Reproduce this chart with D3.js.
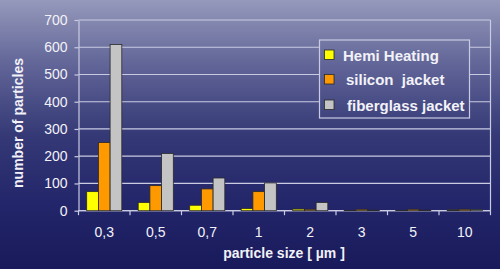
<!DOCTYPE html>
<html>
<head>
<meta charset="utf-8">
<script src="https://cdn.jsdelivr.net/npm/d3@7"></script>
<style>
  html, body { margin: 0; padding: 0; background: #1b1d5f; }
  svg { display: block; font-family: "Liberation Sans", Arial, sans-serif; }
</style>
</head>
<body>
<svg class="chart" width="500" height="269"></svg>
<script>
// particle counts per size class
const sizes = ["0,3", "0,5", "0,7", "1", "2", "3", "5", "10"];
const seriesNames = ["Hemi Heating", "silicon  jacket", "fiberglass jacket"];
const hemiHeating = [70, 30, 20, 8, 6, 1, 1, 3];
const siliconJacket = [250, 92, 80, 70, 5, 5, 5, 5];
const fiberglassJacket = [610, 210, 120, 102, 30, 2, 2, 4];
const yTicks = [0, 100, 200, 300, 400, 500, 600, 700];

const colors = ["#ffff00", "#ff9900", "#c4c4c4"];
const values = [hemiHeating, siliconJacket, fiberglassJacket];

const width = 500;
const height = 269;
const plot = { left: 78.5, right: 490.5, top: 20, bottom: 210.7 };

const svg = d3.select(".chart");

// background gradient, reused for the legend box so it looks see-through
const defs = svg.append("defs");
const grad = defs
  .append("linearGradient")
  .attr("id", "bg")
  .attr("gradientUnits", "userSpaceOnUse")
  .attr("x1", 0).attr("y1", 0)
  .attr("x2", 0).attr("y2", height);
grad.append("stop").attr("offset", 0).attr("stop-color", "#9599bb");
grad.append("stop").attr("offset", 0.25).attr("stop-color", "#5f6396");
grad.append("stop").attr("offset", 0.5).attr("stop-color", "#353976");
grad.append("stop").attr("offset", 0.75).attr("stop-color", "#23266a");
grad.append("stop").attr("offset", 1).attr("stop-color", "#181a5b");

svg.append("rect")
  .attr("width", width)
  .attr("height", height)
  .attr("fill", "url(#bg)");

const x = d3.scaleBand().domain(sizes).range([plot.left, plot.right]);
const xInner = d3
  .scaleBand()
  .domain(d3.range(seriesNames.length))
  .range([0, x.bandwidth()])
  .paddingOuter(0.7);
const y = d3.scaleLinear().domain([0, 700]).range([plot.bottom, plot.top]);

const lineColor = "#c9cbe2";

// grid lines
svg.append("g")
  .selectAll("line")
  .data(yTicks)
  .join("line")
  .attr("x1", plot.left)
  .attr("x2", plot.right)
  .attr("y1", (d) => y(d))
  .attr("y2", (d) => y(d))
  .attr("stroke", lineColor)
  .attr("stroke-width", 1.2);

// right border of plot area
svg.append("line")
  .attr("x1", plot.right).attr("x2", plot.right)
  .attr("y1", plot.top).attr("y2", plot.bottom)
  .attr("stroke", lineColor)
  .attr("stroke-width", 1.2);

// y axis
const yAxis = svg
  .append("g")
  .attr("transform", `translate(${plot.left},0)`)
  .call(d3.axisLeft(y).tickValues(yTicks).tickSize(4).tickPadding(7).tickSizeOuter(0));
yAxis.select(".domain").attr("stroke", lineColor).attr("stroke-width", 1.2);
yAxis.selectAll(".tick line").attr("stroke", lineColor).attr("stroke-width", 1.2);
yAxis.selectAll(".tick text")
  .attr("fill", "#f2f2f8")
  .style("font-size", "14px")
  .style("font-family", "Liberation Sans, Arial, sans-serif");

// x axis: ticks on category boundaries
const xAxis = svg.append("g");
xAxis.append("line")
  .attr("x1", plot.left).attr("x2", plot.right)
  .attr("y1", plot.bottom).attr("y2", plot.bottom)
  .attr("stroke", lineColor)
  .attr("stroke-width", 1.2);
xAxis.selectAll(".xtick")
  .data(sizes.concat([null]))
  .join("line")
  .attr("class", "xtick")
  .attr("x1", (d, i) => plot.left + i * x.step())
  .attr("x2", (d, i) => plot.left + i * x.step())
  .attr("y1", plot.bottom)
  .attr("y2", plot.bottom + 4.5)
  .attr("stroke", lineColor)
  .attr("stroke-width", 1.2);
xAxis.selectAll(".xlabel")
  .data(sizes)
  .join("text")
  .attr("class", "xlabel")
  .attr("x", (d) => x(d) + x.bandwidth() / 2)
  .attr("y", 237)
  .attr("text-anchor", "middle")
  .attr("fill", "#f2f2f8")
  .style("font-size", "14px")
  .text((d) => d);

// bars
values.forEach((vals, s) => {
  svg.append("g")
    .selectAll("rect")
    .data(vals)
    .join("rect")
    .attr("x", (d, i) => x(sizes[i]) + xInner(s))
    .attr("y", (d) => y(d))
    .attr("width", xInner.bandwidth())
    .attr("height", (d) => y(0) - y(d))
    .attr("fill", colors[s])
    .attr("stroke", "#2a2a2a")
    .attr("stroke-width", 0.8);
});

// axis titles
svg.append("text")
  .attr("x", 284)
  .attr("y", 258)
  .attr("text-anchor", "middle")
  .attr("fill", "#f2f2f8")
  .style("font-size", "14px")
  .style("font-weight", "bold")
  .text("particle size [ µm ]");

svg.append("text")
  .attr("transform", "translate(23,123) rotate(-90)")
  .attr("text-anchor", "middle")
  .attr("fill", "#f2f2f8")
  .style("font-size", "14px")
  .style("font-weight", "bold")
  .text("number of particles");

// legend
const legend = svg.append("g");
legend.append("rect")
  .attr("x", 319.5)
  .attr("y", 40)
  .attr("width", 150)
  .attr("height", 78)
  .attr("fill", "url(#bg)")
  .attr("stroke", lineColor)
  .attr("stroke-width", 1.2);
const rows = [55, 79.5, 105];
const textX = [343, 346, 347];
seriesNames.forEach((name, i) => {
  legend.append("rect")
    .attr("x", 324.5)
    .attr("y", rows[i] - 5)
    .attr("width", 9.5)
    .attr("height", 9.5)
    .attr("fill", colors[i])
    .attr("stroke", "#2a2a2a")
    .attr("stroke-width", 0.8);
  legend.append("text")
    .attr("x", textX[i])
    .attr("y", rows[i] + 5.5)
    .attr("fill", "#f2f2f8")
    .style("font-size", "15px")
    .style("font-weight", "bold")
    .style("white-space", "pre")
    .attr("xml:space", "preserve")
    .text(name);
});
</script>
</body>
</html>
